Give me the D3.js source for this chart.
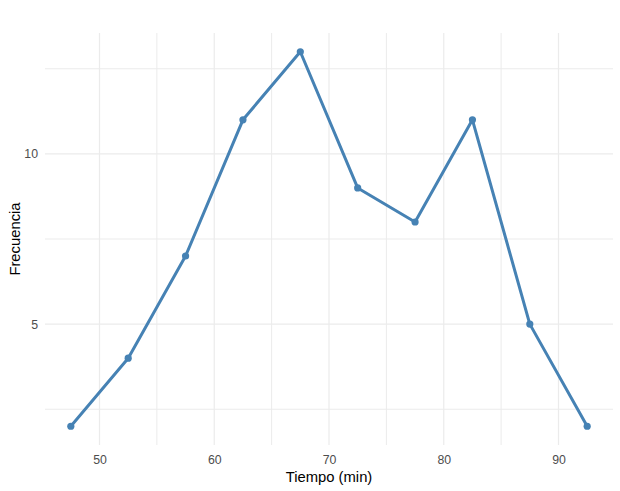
<!DOCTYPE html>
<html>
<head>
<meta charset="utf-8">
<script src="https://cdn.jsdelivr.net/npm/d3@7"></script>
<style>
  body { margin: 0; background: #fff; }
  svg { display: block; font-family: "Liberation Sans", Arial, sans-serif; }
</style>
</head>
<body>
<svg width="620" height="491"></svg>
<script>
// class midpoints (min) and counts
const tiempo = [47.5, 52.5, 57.5, 62.5, 67.5, 72.5, 77.5, 82.5, 87.5, 92.5];
const frecuencia = [2, 4, 7, 11, 13, 9, 8, 11, 5, 2];
const xTicks = [50, 60, 70, 80, 90];
const xMinor = [45, 55, 65, 75, 85, 95];
const yTicks = [5, 10];
const yMinor = [2.5, 7.5, 12.5];

const svg = d3.select("svg");
const margin = { top: 33, right: 7, bottom: 46, left: 45 };
const width = 620 - margin.left - margin.right;
const height = 491 - margin.top - margin.bottom;

const xExt = d3.extent(tiempo), yExt = d3.extent(frecuencia);
const xPad = (xExt[1] - xExt[0]) * 0.05, yPad = (yExt[1] - yExt[0]) * 0.05;

const x = d3.scaleLinear().domain([xExt[0] - xPad, xExt[1] + xPad]).range([0, width]);
const y = d3.scaleLinear().domain([yExt[0] - yPad, yExt[1] + yPad]).range([height, 0]);

const g = svg.append("g").attr("transform", `translate(${margin.left},${margin.top})`);

// grid
const grid = g.append("g");
grid.selectAll(".vmin").data(xMinor.filter(d => d >= x.domain()[0] && d <= x.domain()[1]))
  .join("line")
  .attr("x1", d => x(d)).attr("x2", d => x(d))
  .attr("y1", 0).attr("y2", height)
  .attr("stroke", "#ebebeb").attr("stroke-width", 1);
grid.selectAll(".hmin").data(yMinor)
  .join("line")
  .attr("y1", d => y(d)).attr("y2", d => y(d))
  .attr("x1", 0).attr("x2", width)
  .attr("stroke", "#ebebeb").attr("stroke-width", 1);
grid.selectAll(".vmaj").data(xTicks)
  .join("line")
  .attr("x1", d => x(d)).attr("x2", d => x(d))
  .attr("y1", 0).attr("y2", height)
  .attr("stroke", "#ebebeb").attr("stroke-width", 1.2);
grid.selectAll(".hmaj").data(yTicks)
  .join("line")
  .attr("y1", d => y(d)).attr("y2", d => y(d))
  .attr("x1", 0).attr("x2", width)
  .attr("stroke", "#ebebeb").attr("stroke-width", 1.2);

// axes (labels only, like theme_minimal)
const xAxis = g.append("g").attr("transform", `translate(0,${height})`)
  .call(d3.axisBottom(x).tickValues(xTicks).tickSize(0).tickPadding(10));
const yAxis = g.append("g")
  .call(d3.axisLeft(y).tickValues(yTicks).tickSize(0).tickPadding(7));
[xAxis, yAxis].forEach(a => {
  a.select(".domain").remove();
  a.selectAll("text").attr("fill", "#4d4d4d").style("font-size", "12.3px")
    .style("font-family", "\"Liberation Sans\", Arial, sans-serif");
});

// line + points
const line = d3.line().x((d, i) => x(tiempo[i])).y(d => y(d));
g.append("path").datum(frecuencia)
  .attr("d", line)
  .attr("fill", "none")
  .attr("stroke", "steelblue")
  .attr("stroke-width", 3)
  .attr("stroke-linejoin", "round");

g.selectAll(".pt").data(frecuencia)
  .join("circle")
  .attr("cx", (d, i) => x(tiempo[i]))
  .attr("cy", d => y(d))
  .attr("r", 3.6)
  .attr("fill", "steelblue");

// titles
svg.append("text")
  .attr("x", margin.left + width / 2)
  .attr("y", 482)
  .attr("text-anchor", "middle")
  .style("font-size", "14.8px")
  .attr("fill", "#000")
  .text("Tiempo (min)");

svg.append("text")
  .attr("transform", `translate(20,${margin.top + height / 2}) rotate(-90)`)
  .attr("text-anchor", "middle")
  .style("font-size", "14.8px")
  .attr("fill", "#000")
  .text("Frecuencia");
</script>
</body>
</html>
